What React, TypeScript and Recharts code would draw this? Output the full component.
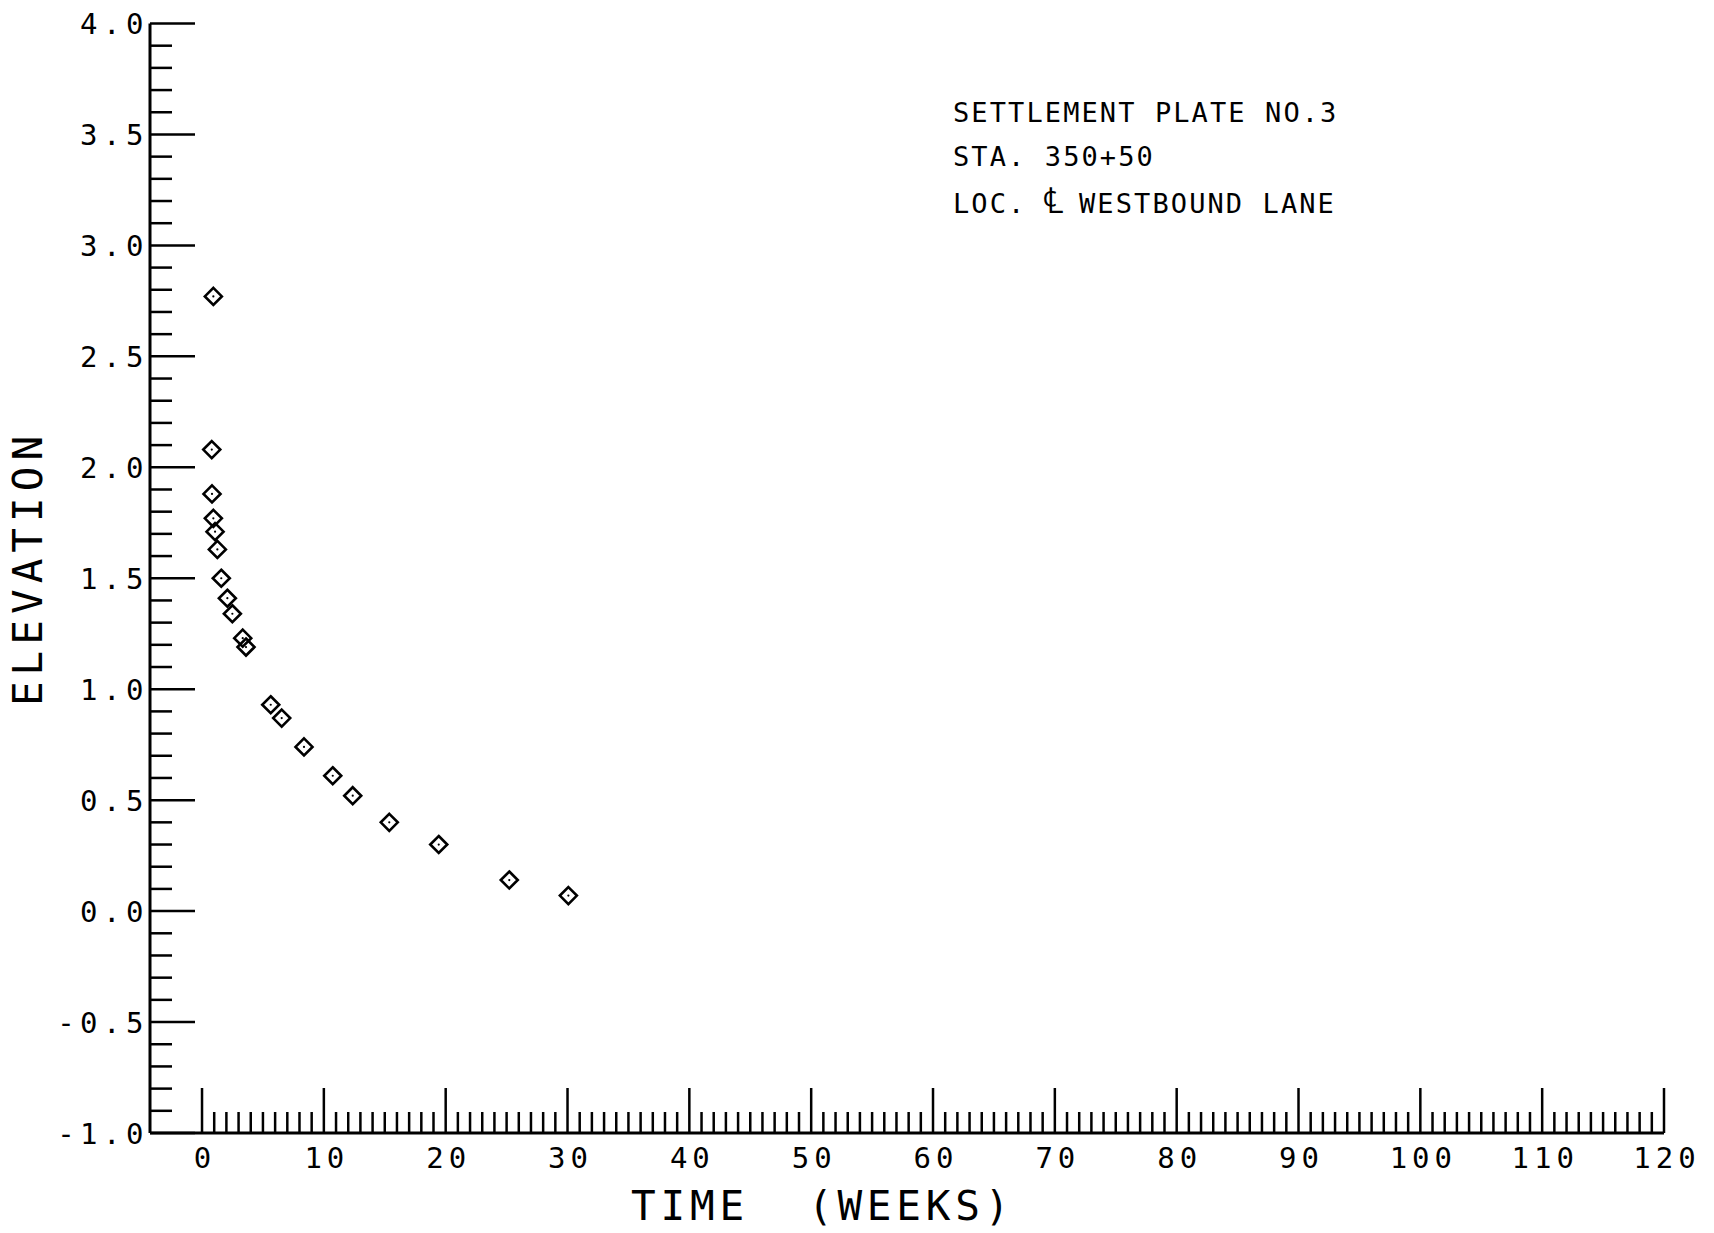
import { Scatter, ScatterChart, XAxis, YAxis } from 'recharts';

// Settlement plate readings: time since placement (weeks) vs. plate elevation
const weeks = [0.93, 0.8, 0.82, 0.93, 1.07, 1.26, 1.58, 2.08, 2.49, 3.34, 3.61, 5.64, 6.54, 8.37, 10.73, 12.37, 15.37, 19.43, 25.22, 30.07];
const elevations = [2.77, 2.08, 1.88, 1.77, 1.71, 1.63, 1.5, 1.41, 1.34, 1.23, 1.19, 0.93, 0.87, 0.74, 0.61, 0.52, 0.4, 0.3, 0.14, 0.07];

// Labelled (long) ticks
const xMajorTicks = [0, 10, 20, 30, 40, 50, 60, 70, 80, 90, 100, 110, 120];
const yMajorTicks = [-1.0, -0.5, 0.0, 0.5, 1.0, 1.5, 2.0, 2.5, 3.0, 3.5, 4.0];

const noteLines = ['SETTLEMENT PLATE NO.3', 'STA. 350+50'];

const FONT = "'DejaVu Sans Mono', monospace";
const W = 1714;
const H = 1233;

// short ticks: 1 week apart on x, 0.1 apart on y
const xTicks: number[] = [];
for (let i = 0; i < xMajorTicks.length - 1; i++) {
  for (let k = 0; k < 10; k++) xTicks.push(xMajorTicks[i] + k);
}
xTicks.push(xMajorTicks[xMajorTicks.length - 1]);

const yTicks: number[] = [];
for (let i = 0; i < yMajorTicks.length - 1; i++) {
  for (let k = 0; k < 5; k++) yTicks.push(Math.round((yMajorTicks[i] + k * 0.1) * 10) / 10);
}
yTicks.push(yMajorTicks[yMajorTicks.length - 1]);

const points = weeks.map((w, i) => ({ week: w, elev: elevations[i] }));

const isMajor = (v: number, list: number[]) => list.some((m) => Math.abs(m - v) < 1e-6);

function XTick(props: any) {
  const { x, y, payload } = props;
  const major = isMajor(payload.value, xMajorTicks);
  return (
    <g>
      <line x1={x} y1={y} x2={x} y2={y - (major ? 45 : 21)} stroke="#000" strokeWidth={2.5} />
      {major && (
        <text x={x + 3} y={y + 35} textAnchor="middle" fontFamily={FONT} fontSize={29} letterSpacing={5} fill="#000">
          {payload.value}
        </text>
      )}
    </g>
  );
}

function YTick(props: any) {
  const { x, y, payload } = props;
  const major = isMajor(payload.value, yMajorTicks);
  return (
    <g>
      <line x1={x} y1={y} x2={x + (major ? 45 : 22)} y2={y} stroke="#000" strokeWidth={2.5} />
      {major && (
        <text x={x - 1} y={y + 10.5} textAnchor="end" fontFamily={FONT} fontSize={29} letterSpacing={5.5} fill="#000">
          {payload.value.toFixed(1)}
        </text>
      )}
    </g>
  );
}

function Diamond(props: any) {
  const { cx, cy } = props;
  const r = 8.5;
  return (
    <g>
      <polygon
        points={`${cx},${cy - r} ${cx + r},${cy} ${cx},${cy + r} ${cx - r},${cy}`}
        fill="none"
        stroke="#000"
        strokeWidth={2.6}
      />
      <circle cx={cx} cy={cy} r={1.1} fill="#000" />
    </g>
  );
}

export default function App() {
  return (
    <div style={{ position: 'absolute', left: 0, top: 0, width: W, height: H, background: '#fff' }}>
      <ScatterChart width={W} height={H} margin={{ top: 23.5, right: 50, bottom: 0, left: 0 }}>
        <XAxis
          type="number"
          dataKey="week"
          domain={[-4.27, 120]}
          ticks={xTicks}
          interval={0}
          height={100}
          tickSize={0}
          tickMargin={0}
          tickLine={false}
          tick={XTick}
          axisLine={{ stroke: '#000', strokeWidth: 3 }}
        />
        <YAxis
          type="number"
          dataKey="elev"
          domain={[-1, 4]}
          ticks={yTicks}
          interval={0}
          width={150}
          tickSize={0}
          tickMargin={0}
          tickLine={false}
          tick={YTick}
          axisLine={{ stroke: '#000', strokeWidth: 3 }}
        />
        <Scatter data={points} shape={Diamond} isAnimationActive={false} />
      </ScatterChart>
      <svg width={W} height={H} style={{ position: 'absolute', left: 0, top: 0, pointerEvents: 'none' }}>
        <text
          x={42}
          y={568}
          transform="rotate(-90 42 568)"
          textAnchor="middle"
          fontFamily={FONT}
          fontSize={41}
          letterSpacing={6}
          fill="#000"
        >
          ELEVATION
        </text>
        <text x={631} y={1220} fontFamily={FONT} fontSize={41} letterSpacing={4.8} fill="#000" xmlSpace="preserve">
          {'TIME  (WEEKS)'}
        </text>
        {noteLines.map((line, i) => (
          <text key={line} x={953} y={122 + i * 44} fontFamily={FONT} fontSize={27} letterSpacing={2.1} fill="#000">
            {line}
          </text>
        ))}
        <text y={213} fontFamily={FONT} fontSize={27} letterSpacing={2.1} fill="#000">
          <tspan x={953}>LOC.</tspan>
          <tspan x={1043} fontSize={36}>℄</tspan>
          <tspan x={1079}>WESTBOUND LANE</tspan>
        </text>
      </svg>
    </div>
  );
}
